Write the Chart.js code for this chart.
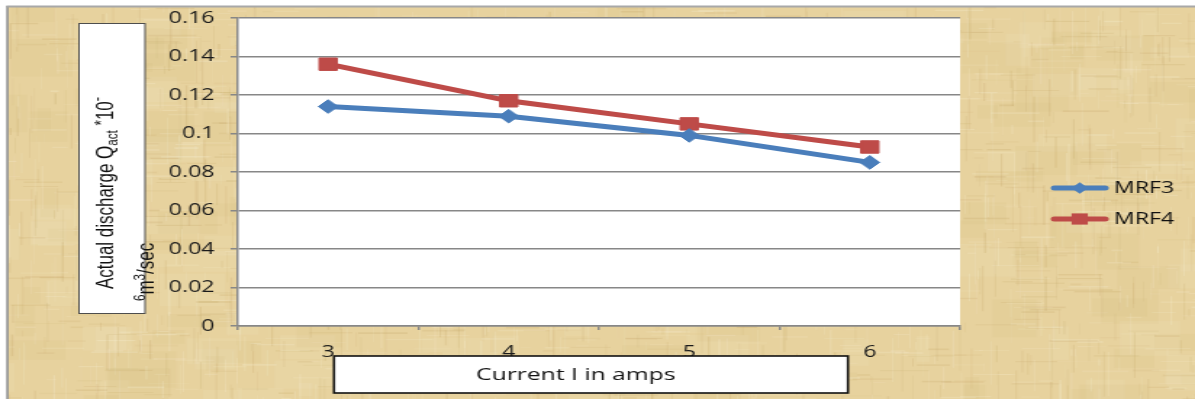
<!DOCTYPE html>
<html>
<head>
<meta charset="utf-8">
<script src="https://cdn.jsdelivr.net/npm/chart.js@4/dist/chart.umd.min.js"></script>
<style>
  html, body { margin: 0; padding: 0; background: #fff; overflow: hidden; }
  /* drawing surface is laid out narrow and widened to the page width */
  #c { display: block; width: 1195px !important; height: 399px !important; }
</style>
</head>
<body>
<canvas id="c" width="824" height="399"></canvas>
<script>
// Current (A) on the x axis
const categories = ['3', '4', '5', '6'];
// Actual discharge readings for each fluid
const mrf3 = [0.114, 0.109, 0.099, 0.085];
const mrf4 = [0.136, 0.117, 0.105, 0.093];
const seriesNames = ['MRF3', 'MRF4'];
const yTickLabels = ['0', '0.02', '0.04', '0.06', '0.08', '0.1', '0.12', '0.14', '0.16'];
const xTitle = 'Current I in amps';

const BLUE = '#4a7ebb';
const RED = '#be4b48';
const GRID = '#878787';
const TICK_FONT = { family: "'Open Sans', sans-serif", size: 16 };

// small seeded generator for the paper fibre texture
function mulberry32(a) {
  return function () {
    a |= 0; a = a + 0x6D2B79F5 | 0;
    let t = Math.imul(a ^ a >>> 15, 1 | a);
    t = t + Math.imul(t ^ t >>> 7, 61 | t) ^ t;
    return ((t ^ t >>> 14) >>> 0) / 4294967296;
  };
}

const paperBackground = {
  id: 'paperBackground',
  beforeDraw(chart) {
    const { ctx, width, height, chartArea: ca } = chart;
    ctx.save();
    ctx.fillStyle = '#ffffff';
    ctx.fillRect(0, 0, width, height);
    const x0 = 5.5, y0 = 7;
    ctx.fillStyle = '#e7d29e';
    ctx.fillRect(x0, y0, width - x0, height - y0);
    const rnd = mulberry32(20240611);
    ctx.beginPath();
    ctx.rect(x0, y0, width - x0, height - y0);
    ctx.clip();
    // soft blotches
    for (let i = 0; i < 260; i++) {
      const dark = rnd() < 0.5;
      ctx.fillStyle = dark ? 'rgba(205,175,112,0.09)' : 'rgba(250,240,212,0.11)';
      ctx.fillRect(rnd() * width, rnd() * height, 8 + rnd() * 40, 8 + rnd() * 30);
    }
    // vertical and horizontal fibres
    for (let i = 0; i < 2600; i++) {
      const dark = rnd() < 0.45;
      const a = 0.07 + rnd() * 0.17;
      ctx.fillStyle = dark ? `rgba(192,160,96,${a})` : `rgba(252,245,222,${a})`;
      const x = rnd() * width, y = rnd() * height;
      if (rnd() < 0.55) {
        ctx.fillRect(x, y, 0.5 + rnd() * 0.9, 6 + rnd() * 40);
      } else {
        ctx.fillRect(x, y, 6 + rnd() * 28, 0.6 + rnd() * 1.2);
      }
    }
    ctx.restore();
    // thin grey frame along left and top
    ctx.save();
    ctx.fillStyle = '#8f8f8f';
    ctx.fillRect(x0 - 1.2, y0 - 1, 1.6, height);
    ctx.fillStyle = '#a8a8a8';
    ctx.fillRect(x0 - 1.2, y0 - 1.5, width, 2);
    // white plotting field
    ctx.fillStyle = '#ffffff';
    ctx.fillRect(ca.left, ca.top, ca.right - ca.left, ca.bottom - ca.top);
    ctx.restore();
  }
};

// draws a run of text pieces (normal / sub / superscript) along one baseline
function richLine(ctx, pieces, family) {
  let x = 0;
  for (const p of pieces) {
    ctx.font = `${p.size}px ${family}`;
    ctx.fillText(p.t, x, p.dy || 0);
    x += ctx.measureText(p.t).width;
  }
  return x;
}
function richWidth(ctx, pieces, family) {
  let w = 0;
  for (const p of pieces) {
    ctx.font = `${p.size}px ${family}`;
    w += ctx.measureText(p.t).width;
  }
  return w;
}

const axisTitles = {
  id: 'axisTitles',
  afterDraw(chart) {
    const { ctx } = chart;
    const fam = "'Liberation Sans', Arial, sans-serif";
    ctx.save();
    // y axis title box
    ctx.fillStyle = '#ffffff';
    ctx.fillRect(54.5, 23, 45.5, 290);
    ctx.strokeStyle = '#4d4d4d';
    ctx.lineWidth = 1;
    ctx.strokeRect(54.5, 23.5, 45.5, 290);

    const line1 = [
      { t: 'Actual discharge Q', size: 16 },
      { t: 'act', size: 11, dy: 3 },
      { t: ' ', size: 16 },
      { t: '*', size: 13, dy: -4 },
      { t: '10', size: 16 },
      { t: '-', size: 12, dy: -7 }
    ];
    const line2 = [
      { t: '6', size: 11, dy: -6 },
      { t: 'm', size: 16 },
      { t: '3', size: 11, dy: -6 },
      { t: '/sec', size: 16 }
    ];
    const fx = 192 / richWidth(ctx, line1, fam);
    ctx.fillStyle = '#111111';
    ctx.textBaseline = 'alphabetic';
    ctx.textAlign = 'left';
    ctx.save();
    ctx.translate(77.5, 289);
    ctx.rotate(-Math.PI / 2);
    ctx.scale(fx, 1);
    richLine(ctx, line1, fam);
    ctx.restore();
    ctx.save();
    ctx.translate(105.5, 301);
    ctx.rotate(-Math.PI / 2);
    ctx.scale(fx, 1);
    richLine(ctx, line2, fam);
    ctx.restore();

    // x axis title box
    ctx.fillStyle = '#ffffff';
    ctx.fillRect(230.3, 356, 354.4, 37);
    ctx.strokeStyle = '#111111';
    ctx.lineWidth = 1.6;
    ctx.strokeRect(230.3, 356, 354.4, 37);
    ctx.fillStyle = '#111111';
    ctx.font = "17px 'Open Sans', sans-serif";
    ctx.textAlign = 'center';
    ctx.textBaseline = 'middle';
    ctx.fillText(xTitle, 397, 375);
    ctx.restore();
  }
};

function marker(ctx, style, x, y, r, color) {
  ctx.fillStyle = color;
  ctx.beginPath();
  if (style === 'rectRot') {
    ctx.moveTo(x - r, y); ctx.lineTo(x, y - r); ctx.lineTo(x + r, y); ctx.lineTo(x, y + r);
  } else {
    ctx.rect(x - r, y - r, 2 * r, 2 * r);
  }
  ctx.closePath();
  ctx.fill();
}

const sideLegend = {
  id: 'sideLegend',
  afterDraw(chart) {
    const { ctx } = chart;
    const rows = [188, 219];
    ctx.save();
    chart.data.datasets.forEach((ds, i) => {
      const y = rows[i];
      ctx.strokeStyle = ds.borderColor;
      ctx.lineWidth = 5;
      ctx.lineCap = 'round';
      ctx.beginPath();
      ctx.moveTo(727, y);
      ctx.lineTo(762, y);
      ctx.stroke();
      marker(ctx, ds.pointStyle, 744.5, y, ds.pointStyle === 'rect' ? 5.6 : 5.8, ds.backgroundColor);
      ctx.fillStyle = '#111111';
      ctx.font = "16px 'Open Sans', sans-serif";
      ctx.textAlign = 'left';
      ctx.textBaseline = 'middle';
      ctx.fillText(ds.label, 768, y);
    });
    ctx.restore();
  }
};

new Chart(document.getElementById('c'), {
  type: 'line',
  data: {
    labels: categories,
    datasets: [
      {
        label: seriesNames[0], data: mrf3,
        borderColor: BLUE, backgroundColor: BLUE,
        borderWidth: 5, tension: 0,
        pointStyle: 'rectRot', pointRadius: 6.8,
        pointBackgroundColor: BLUE, pointBorderColor: BLUE, pointBorderWidth: 1
      },
      {
        label: seriesNames[1], data: mrf4,
        borderColor: RED, backgroundColor: RED,
        borderWidth: 5, tension: 0,
        pointStyle: 'rect', pointRadius: 8.8,
        pointBackgroundColor: RED, pointBorderColor: RED, pointBorderWidth: 1
      }
    ]
  },
  options: {
    responsive: false,
    animation: false,
    events: [],
    devicePixelRatio: 1,
    layout: { padding: { top: 18, right: 162, bottom: 0, left: 0 } },
    plugins: { legend: { display: false }, tooltip: { enabled: false } },
    scales: {
      x: {
        type: 'category',
        offset: true,
        grid: { offset: true, drawOnChartArea: false, drawTicks: true, tickLength: 4, color: GRID, lineWidth: 1.5 },
        border: { display: true, color: GRID, width: 1.5 },
        ticks: { color: '#1a1a1a', font: TICK_FONT, padding: 13, maxRotation: 0 },
        afterFit(scale) { scale.height = 73; scale.paddingLeft = 0; scale.paddingRight = 0; }
      },
      y: {
        min: 0, max: 0.16,
        grid: { color: GRID, lineWidth: 1.5, tickLength: 5, drawTicks: true },
        border: { display: true, color: GRID, width: 1.5 },
        ticks: {
          stepSize: 0.02,
          color: '#1a1a1a', font: TICK_FONT, padding: 11,
          callback: (v, i) => yTickLabels[i]
        },
        afterFit(scale) { scale.width = 164; scale.paddingTop = 0; scale.paddingBottom = 0; }
      }
    }
  },
  plugins: [paperBackground, axisTitles, sideLegend]
});
</script>
</body>
</html>
